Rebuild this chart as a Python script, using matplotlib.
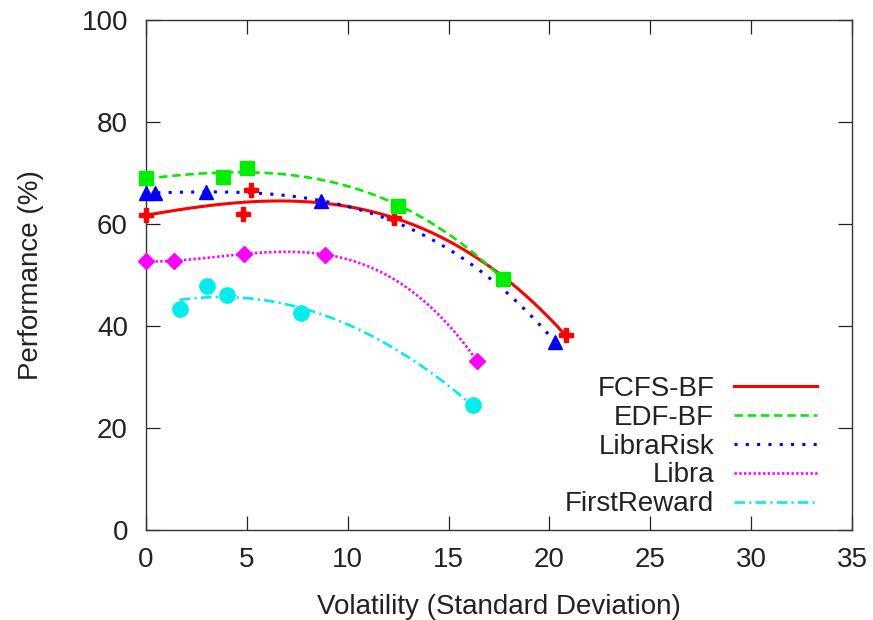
import matplotlib
matplotlib.use("Agg")
import matplotlib.pyplot as plt
import numpy as np

plt.rcParams['font.family'] = ['Liberation Sans', 'DejaVu Sans']

# measured points (volatility, performance %)
fcfs_x = [0.0, 4.8, 5.2, 12.3, 20.8]
fcfs_y = [61.8, 61.9, 66.7, 61.1, 38.2]

edf_x = [0.0, 3.8, 5.0, 12.5, 17.7]
edf_y = [69.0, 69.2, 71.0, 63.6, 49.2]

librarisk_x = [0.0, 0.45, 2.97, 8.66, 20.3]
librarisk_y = [66.1, 66.1, 66.3, 64.6, 36.8]

libra_x = [0.0, 1.4, 4.87, 8.86, 16.4]
libra_y = [52.7, 52.7, 54.2, 54.0, 33.2]

first_x = [1.68, 3.03, 4.02, 7.7, 16.2]
first_y = [43.3, 47.9, 46.1, 42.5, 24.5]

labels = ["FCFS-BF", "EDF-BF", "LibraRisk", "Libra", "FirstReward"]
xticks = [0, 5, 10, 15, 20, 25, 30, 35]
yticks = [0, 20, 40, 60, 80, 100]

# x, y, colour, marker, marker size, smoothing degree, dashes, line width
series = [
    (fcfs_x, fcfs_y, "#ff0000", "P", 10.5, 3, None, 2.2),
    (edf_x, edf_y, "#00ee00", "s", 9.5, 3, (3.2, 1.8), 1.9),
    (librarisk_x, librarisk_y, "#0000ff", "^", 10.5, 3, (1.0, 2.7), 2.2),
    (libra_x, libra_y, "#ff00ff", "D", 8, 3, (0.9, 0.9), 1.9),
    (first_x, first_y, "#00eeee", "o", 11, 2, (4.0, 1.6, 0.8, 1.6), 1.9),
]

fig = plt.figure(figsize=(8.73, 6.2), dpi=100)
ax = fig.add_axes([146 / 873, 1 - 530 / 620, 706 / 873, 510 / 620])

for (xs, ys, col, mk, ms, deg, dash, lw), lab in zip(series, labels):
    coef = np.polyfit(xs, ys, deg)
    xx = np.linspace(min(xs), max(xs), 200)
    line, = ax.plot(xx, np.polyval(coef, xx), color=col, lw=lw, label=lab,
                    clip_on=False)
    if dash is not None:
        line.set_dashes(dash)
        line.set_dash_capstyle('butt')
    ax.plot(xs, ys, ls="none", marker=mk, ms=ms, color=col, mec=col,
            clip_on=False, zorder=3)

ax.set_xlim(0, 35)
ax.set_ylim(0, 100)
ax.set_xticks(xticks)
ax.set_yticks(yticks)
ax.tick_params(direction="in", length=10, width=0.9, labelsize=20,
               top=True, right=True, colors="#222222")
ax.tick_params(axis="x", pad=12)
ax.tick_params(axis="y", pad=13)
for s in ax.spines.values():
    s.set_linewidth(1.0)
    s.set_color("#333333")

ax.set_xlabel("Volatility (Standard Deviation)", fontsize=20, color="#222222")
ax.set_ylabel("Performance (%)", fontsize=20, color="#222222")
ax.xaxis.set_label_coords(0.5, -0.125)
ax.yaxis.set_label_coords(-0.145, 0.5)

leg = ax.legend(loc="lower right", bbox_to_anchor=(0.9504, 0.025),
                frameon=False, markerfirst=False, fontsize=20,
                handlelength=3.0, handletextpad=0.7, labelspacing=0.1,
                borderpad=0, borderaxespad=0)
for t in leg.get_texts():
    t.set_color("#222222")

fig.savefig("out.png", dpi=100)
